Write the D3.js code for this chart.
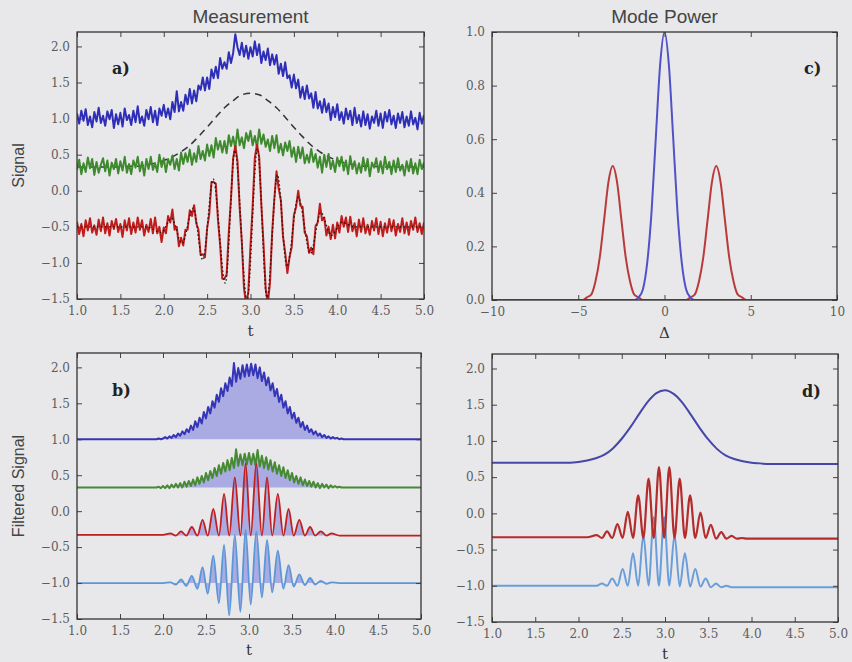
<!DOCTYPE html>
<html>
<head>
<meta charset="utf-8">
<script src="https://cdn.jsdelivr.net/npm/d3@7"></script>
<style>
  body { margin: 0; background: #e8e8ea; }
  svg { display: block; }
</style>
</head>
<body>
<svg id="fig" width="852" height="662"></svg>
<script>
// ---- data ----
// sample times of the raw measurement (panel a), step 0.025
var tA = d3.range(161).map(function(i) { return 1 + i * 0.025; });

var blueA = [
  1.07,0.93,1.11,0.97,1.13,0.91,1.03,0.88,1.09,0.96,
  1.15,0.94,1.04,0.90,1.10,0.99,1.12,0.87,1.06,0.92,
  1.08,0.89,1.14,0.98,1.05,0.91,1.11,0.95,1.17,0.94,
  1.03,0.90,1.12,0.99,1.16,0.95,1.11,0.91,1.14,1.04,
  1.19,1.02,1.14,0.99,1.23,1.09,1.38,1.10,1.23,1.11,
  1.33,1.20,1.41,1.21,1.39,1.24,1.46,1.40,1.57,1.39,
  1.57,1.41,1.68,1.56,1.72,1.56,1.84,1.69,1.78,1.69,
  1.92,1.77,1.91,2.17,1.99,1.88,2.05,1.86,2.01,1.83,
  1.99,1.86,2.07,1.88,2.03,1.77,1.93,1.81,1.97,1.74,
  1.89,1.75,1.88,1.62,1.76,1.59,1.78,1.56,1.60,1.43,
  1.61,1.42,1.54,1.29,1.44,1.27,1.46,1.28,1.35,1.15,
  1.37,1.14,1.24,1.08,1.27,1.09,1.21,0.98,1.16,1.02,
  1.20,0.98,1.09,0.93,1.14,0.99,1.11,0.91,1.15,0.94,
  1.05,0.89,1.10,0.91,1.06,0.86,1.03,0.94,1.11,0.90,
  1.07,0.87,1.09,0.96,1.12,0.92,1.04,0.87,1.07,0.94,
  1.09,0.88,1.03,0.90,1.10,0.92,1.01,0.85,1.08,0.93,
  1.05
];

var greenA = [
  0.29,0.43,0.23,0.38,0.26,0.46,0.31,0.44,0.22,0.40,
  0.25,0.36,0.45,0.27,0.42,0.21,0.39,0.30,0.44,0.24,
  0.41,0.28,0.47,0.25,0.37,0.23,0.42,0.32,0.47,0.27,
  0.40,0.21,0.44,0.30,0.47,0.29,0.38,0.26,0.50,0.33,
  0.45,0.26,0.44,0.36,0.49,0.30,0.44,0.28,0.53,0.37,
  0.52,0.40,0.57,0.36,0.52,0.40,0.62,0.44,0.55,0.42,
  0.64,0.48,0.63,0.46,0.73,0.57,0.69,0.53,0.69,0.52,
  0.77,0.62,0.75,0.58,0.85,0.63,0.74,0.59,0.80,0.69,
  0.83,0.63,0.76,0.60,0.85,0.65,0.78,0.61,0.71,0.55,
  0.76,0.59,0.77,0.53,0.65,0.49,0.67,0.55,0.69,0.47,
  0.60,0.40,0.61,0.45,0.60,0.38,0.50,0.39,0.58,0.40,
  0.51,0.32,0.47,0.25,0.50,0.33,0.51,0.30,0.42,0.26,
  0.46,0.34,0.47,0.28,0.42,0.23,0.48,0.30,0.41,0.24,
  0.38,0.25,0.46,0.28,0.44,0.20,0.39,0.32,0.45,0.26,
  0.41,0.24,0.47,0.30,0.40,0.23,0.42,0.26,0.45,0.28,
  0.36,0.21,0.41,0.27,0.44,0.24,0.38,0.23,0.43,0.30,
  0.39
];

var redA = [
  -0.43,-0.60,-0.46,-0.63,-0.41,-0.55,-0.38,-0.58,-0.48,-0.61,
  -0.40,-0.56,-0.37,-0.59,-0.45,-0.62,-0.42,-0.53,-0.39,-0.57,
  -0.46,-0.64,-0.41,-0.55,-0.38,-0.60,-0.44,-0.58,-0.37,-0.54,
  -0.41,-0.62,-0.47,-0.57,-0.39,-0.59,-0.37,-0.59,-0.50,-0.71,
  -0.51,-0.59,-0.35,-0.44,-0.26,-0.54,-0.50,-0.77,-0.65,-0.76,
  -0.54,-0.54,-0.27,-0.35,-0.20,-0.45,-0.54,-0.89,-0.88,-0.92,
  -0.52,-0.32,0.12,0.12,0.10,-0.40,-0.75,-1.22,-1.22,-1.16,
  -0.57,-0.11,0.45,0.62,0.41,-0.23,-0.71,-1.35,-1.58,-1.40,
  -0.76,-0.21,0.46,0.64,0.47,-0.19,-0.74,-1.36,-1.56,-1.27,
  -0.57,-0.11,0.27,0.03,-0.13,-0.64,-0.86,-1.14,-0.92,-0.78,
  -0.34,-0.23,0.00,-0.21,-0.22,-0.58,-0.63,-0.86,-0.79,-0.88,
  -0.49,-0.44,-0.18,-0.41,-0.37,-0.62,-0.50,-0.67,-0.47,-0.66,
  -0.44,-0.58,-0.35,-0.50,-0.37,-0.57,-0.36,-0.56,-0.45,-0.63,
  -0.40,-0.57,-0.38,-0.59,-0.47,-0.61,-0.42,-0.55,-0.38,-0.60,
  -0.43,-0.63,-0.45,-0.58,-0.39,-0.56,-0.41,-0.62,-0.46,-0.57,
  -0.38,-0.59,-0.44,-0.61,-0.42,-0.54,-0.37,-0.57,-0.45,-0.60,
  -0.44
];

// dashed reference envelope in panel a (step 0.1)
var dashT = d3.range(41).map(function(i) { return 1 + i * 0.1; });
var dashA = [
  0.33,0.33,0.33,0.33,0.33,0.33,0.34,0.34,0.36,0.38,
  0.42,0.47,0.54,0.63,0.75,0.88,1.02,1.15,1.25,1.33,
  1.35,1.33,1.25,1.15,1.02,0.88,0.75,0.63,0.54,0.47,
  0.42,0.38,0.36,0.34,0.34,0.33,0.33,0.33,0.33,0.33,
  0.33
];

// dotted clean oscillation in panel a (turning points)
var cleanT = [1.0,1.8,1.97,2.09,2.21,2.34,2.45,2.57,2.71,2.82,2.96,3.08,3.19,3.31,3.42,3.55,3.69,3.81,3.93,4.05,4.2,5.0];
var cleanA = [-0.5,-0.5,-0.58,-0.38,-0.73,-0.24,-0.96,0.16,-1.28,0.56,-1.52,0.58,-1.48,0.22,-1.05,-0.09,-0.87,-0.30,-0.62,-0.44,-0.5,-0.5];

// panel b: filtered signals, window 1.9..4.1 step 0.025 plus end points
var tB = [1.0].concat(d3.range(89).map(function(i) { return 1.9 + i * 0.025; }), [5.0]);
var blueB = [1.00,
  1.00,1.00,1.01,1.00,1.01,1.03,1.01,1.04,1.02,1.06,
  1.03,1.08,1.05,1.11,1.07,1.14,1.10,1.19,1.13,1.25,
  1.17,1.30,1.22,1.38,1.29,1.45,1.36,1.53,1.44,1.62,
  1.52,1.71,1.60,1.78,1.67,1.86,1.74,2.06,1.80,1.99,
  1.84,2.03,1.87,2.04,1.88,2.05,1.89,2.04,1.85,2.00,
  1.81,1.93,1.75,1.86,1.68,1.78,1.60,1.70,1.52,1.62,
  1.44,1.53,1.36,1.45,1.29,1.37,1.23,1.30,1.17,1.24,
  1.13,1.19,1.10,1.14,1.07,1.11,1.05,1.08,1.03,1.06,
  1.02,1.04,1.01,1.03,1.01,1.02,1.00,1.01,1.00,
  1.00];
var greenB = [0.33,
  0.33,0.33,0.34,0.32,0.35,0.32,0.36,0.32,0.37,0.33,
  0.38,0.33,0.39,0.33,0.41,0.34,0.42,0.35,0.44,0.36,
  0.47,0.38,0.49,0.40,0.53,0.43,0.56,0.46,0.60,0.49,
  0.64,0.52,0.67,0.55,0.71,0.57,0.74,0.60,0.86,0.63,
  0.79,0.64,0.80,0.65,0.81,0.65,0.80,0.64,0.85,0.62,
  0.77,0.60,0.75,0.58,0.71,0.55,0.68,0.52,0.64,0.49,
  0.61,0.46,0.57,0.43,0.53,0.40,0.49,0.38,0.47,0.36,
  0.44,0.35,0.42,0.34,0.41,0.33,0.39,0.32,0.38,0.33,
  0.37,0.32,0.36,0.33,0.35,0.33,0.34,0.33,0.33,
  0.33];

// panel b oscillations (turning points)
var oscT = [1.0,2.0,2.085,2.15,2.21,2.27,2.335,2.4,2.46,2.52,2.585,2.65,2.71,2.77,2.835,2.9,2.96,3.02,3.085,3.15,3.21,3.27,3.335,3.4,3.46,3.52,3.585,3.65,3.71,3.77,3.835,3.9,3.96,4.05,5.0];
var redB = [-0.33,-0.33,-0.31,-0.34,-0.28,-0.34,-0.22,-0.34,-0.12,-0.34,0.03,-0.34,0.24,-0.34,0.47,-0.34,0.66,-0.34,0.66,-0.34,0.47,-0.34,0.24,-0.34,0.03,-0.34,-0.12,-0.34,-0.22,-0.34,-0.28,-0.34,-0.31,-0.34,-0.34];
var lightB = [-1.0,-1.0,-0.99,-1.02,-0.95,-1.04,-0.90,-1.08,-0.78,-1.15,-0.62,-1.28,-0.47,-1.45,-0.33,-1.40,-0.26,-1.30,-0.28,-1.20,-0.40,-1.13,-0.55,-1.08,-0.75,-1.05,-0.88,-1.03,-0.93,-1.02,-0.97,-1.01,-0.99,-1.0,-1.0];

// panel c: mode power vs detuning
var deltaC = [-10,-5,-4.75,-4.5,-4.25,-4,-3.75,-3.5,-3.25,-3,-2.75,-2.5,-2.25,-2,-1.75,-1.5,-1.25,-1,-0.75,-0.5,-0.25,0,0.25,0.5,0.75,1,1.25,1.5,1.75,2,2.25,2.5,2.75,3,3.25,3.5,3.75,4,4.25,4.5,4.75,5,10];
var redC = [0,0,0,0.01,0.02,0.07,0.16,0.30,0.44,0.50,0.44,0.30,0.16,0.07,0.02,0.01,0,0,0,0,0,0,0,0,0,0,0,0.01,0.02,0.07,0.16,0.30,0.44,0.50,0.44,0.30,0.16,0.07,0.02,0.01,0,0,0];
var blueC = [0,0,0,0,0,0,0,0,0,0,0,0,0,0,0,0.01,0.04,0.14,0.33,0.61,0.88,1.0,0.88,0.61,0.33,0.14,0.04,0.01,0,0,0,0,0,0,0,0,0,0,0,0,0,0,0];

// panel d: reconstructed signals
var dT = [1.0,1.8,1.9,2.0,2.1,2.2,2.3,2.4,2.5,2.6,2.7,2.8,2.9,3.0,3.1,3.2,3.3,3.4,3.5,3.6,3.7,3.8,3.9,4.0,4.1,4.2,5.0];
var blueD = [0.70,0.70,0.70,0.71,0.73,0.76,0.81,0.90,1.03,1.19,1.37,1.54,1.66,1.70,1.65,1.53,1.36,1.18,1.02,0.89,0.80,0.75,0.72,0.70,0.69,0.68,0.68];
var redDT = [1.0,2.1,2.21,2.27,2.33,2.39,2.45,2.51,2.57,2.63,2.69,2.75,2.81,2.87,2.93,2.99,3.05,3.11,3.17,3.23,3.29,3.35,3.41,3.47,3.53,3.59,3.65,3.71,3.77,3.83,3.89,3.95,5.0];
var redD = [-0.33,-0.33,-0.30,-0.34,-0.25,-0.34,-0.15,-0.34,0.02,-0.34,0.25,-0.34,0.48,-0.34,0.64,-0.34,0.64,-0.34,0.48,-0.34,0.25,-0.34,0.01,-0.34,-0.16,-0.35,-0.26,-0.35,-0.31,-0.35,-0.34,-0.35,-0.35];
var lightDT = [1.0,2.15,2.21,2.27,2.33,2.39,2.45,2.51,2.57,2.63,2.69,2.75,2.81,2.87,2.93,2.99,3.05,3.11,3.17,3.23,3.29,3.35,3.41,3.47,3.53,3.59,3.65,3.71,3.77,5.0];
var lightD = [-1.0,-1.0,-1.0,-0.97,-1.0,-0.90,-1.0,-0.77,-1.0,-0.55,-1.0,-0.30,-1.0,-0.05,-1.0,-0.05,-1.0,-0.30,-1.01,-0.55,-1.01,-0.77,-1.01,-0.90,-1.02,-0.97,-1.02,-1.0,-1.02,-1.02];

// ticks
var tTicks = [1.0,1.5,2.0,2.5,3.0,3.5,4.0,4.5,5.0];
var sigTicks = [-1.5,-1.0,-0.5,0.0,0.5,1.0,1.5,2.0];
var deltaTicks = [-10,-5,0,5,10];
var powerTicks = [0.0,0.2,0.4,0.6,0.8,1.0];

// ---- drawing ----
var svg = d3.select("#fig");
var defs = svg.append("defs");
var serif = "'DejaVu Serif', serif";
var sans = "'Liberation Sans', Arial, sans-serif";

function makePanel(key, box, xDom, yDom, xTicks, yTicks, xFmt, yFmt) {
    var x = d3.scaleLinear().domain(xDom).range([box.l, box.r]);
    var y = d3.scaleLinear().domain(yDom).range([box.b, box.t]);

    defs.append("clipPath").attr("id", "clip-" + key)
        .append("rect")
        .attr("x", box.l).attr("y", box.t)
        .attr("width", box.r - box.l).attr("height", box.b - box.t);

    var plot = svg.append("g").attr("clip-path", "url(#clip-" + key + ")");

    function styleAxis(sel) {
        sel.select(".domain").remove();
        sel.selectAll("line").attr("stroke", "#444").attr("stroke-width", 1);
        sel.selectAll("text").attr("font-family", serif).attr("font-size", 12).attr("fill", "#5c5c5c");
    }

    svg.append("g").attr("transform", "translate(0," + box.b + ")")
        .call(d3.axisBottom(x).tickValues(xTicks).tickSize(-5).tickPadding(7).tickFormat(xFmt))
        .call(styleAxis);
    svg.append("g").attr("transform", "translate(0," + box.t + ")")
        .call(d3.axisTop(x).tickValues(xTicks).tickSize(-5).tickFormat(""))
        .call(styleAxis);
    svg.append("g").attr("transform", "translate(" + box.l + ",0)")
        .call(d3.axisLeft(y).tickValues(yTicks).tickSize(-5).tickPadding(7).tickFormat(yFmt))
        .call(styleAxis);
    svg.append("g").attr("transform", "translate(" + box.r + ",0)")
        .call(d3.axisRight(y).tickValues(yTicks).tickSize(-5).tickFormat(""))
        .call(styleAxis);

    var frame = function() {
        svg.append("rect")
            .attr("x", box.l).attr("y", box.t)
            .attr("width", box.r - box.l).attr("height", box.b - box.t)
            .attr("fill", "none").attr("stroke", "#333").attr("stroke-width", 1.3);
    };
    return { x: x, y: y, plot: plot, box: box, frame: frame };
}

function addLine(p, xs, ys, color, width, curve, dash) {
    var line = d3.line()
        .x(function(d) { return p.x(d[0]); })
        .y(function(d) { return p.y(d[1]); });
    if (curve) line.curve(curve);
    var path = p.plot.append("path")
        .datum(d3.zip(xs, ys))
        .attr("d", line)
        .attr("fill", "none")
        .attr("stroke", color)
        .attr("stroke-width", width)
        .attr("stroke-linejoin", "round");
    if (dash) path.attr("stroke-dasharray", dash);
    return path;
}

function addFill(p, xs, ys, base, curve) {
    var area = d3.area()
        .x(function(d) { return p.x(d[0]); })
        .y0(p.y(base))
        .y1(function(d) { return p.y(d[1]); });
    if (curve) area.curve(curve);
    p.plot.append("path")
        .datum(d3.zip(xs, ys))
        .attr("d", area)
        .attr("fill", "rgba(80,80,220,0.4)")
        .attr("stroke", "none");
}

var f1 = d3.format(".1f"), fInt = d3.format("d");
var smooth = d3.curveMonotoneX;

// panel a
var pa = makePanel("a", { l: 77, r: 424, t: 32, b: 299 }, [1, 5], [-1.5, 2.2], tTicks, sigTicks, f1, f1);
addLine(pa, dashT, dashA, "#333", 1.5, smooth, "7,5");
addLine(pa, tA, blueA, "#2e2eb8", 2);
addLine(pa, tA, greenA, "#3f8a2f", 2);
addLine(pa, tA, redA, "#c01c1c", 2);
addLine(pa, cleanT, cleanA, "#1a1a1a", 1.4, smooth, "1.5,2.5");
pa.frame();

// panel c
var pc = makePanel("c", { l: 492, r: 837, t: 32, b: 300 }, [-10, 10], [0, 1], deltaTicks, powerTicks, fInt, f1);
addLine(pc, deltaC, redC, "#b83a3a", 2, smooth);
addLine(pc, deltaC, blueC, "#5252c8", 2, smooth);
pc.frame();

// panel b
var pb = makePanel("b", { l: 77, r: 421, t: 353, b: 619 }, [1, 5], [-1.5, 2.2], tTicks, sigTicks, f1, f1);
addFill(pb, tB, blueB, 1.0);
addFill(pb, tB, greenB, 0.33);
addFill(pb, oscT, lightB, -1.0, smooth);
addFill(pb, oscT, redB, -0.34, smooth);
addLine(pb, tB, blueB, "#3535b8", 2);
addLine(pb, tB, greenB, "#468a34", 2);
addLine(pb, oscT, lightB, "#5b96d6", 1.8, smooth);
addLine(pb, oscT, redB, "#c02020", 1.8, smooth);
pb.frame();

// panel d
var pd = makePanel("d", { l: 492, r: 838, t: 354, b: 622 }, [1, 5], [-1.5, 2.2], tTicks, sigTicks, f1, f1);
addLine(pd, lightDT, lightD, "#6a9edb", 2, smooth);
addLine(pd, redDT, redD, "#b42c2c", 2.2, smooth);
addLine(pd, dT, blueD, "#4646aa", 2, smooth);
pd.frame();

// ---- text ----
function label(txt, x, y, opts) {
    var t = svg.append("text").attr("x", x).attr("y", y).text(txt)
        .attr("font-family", opts.family || sans)
        .attr("font-size", opts.size || 14)
        .attr("fill", opts.color || "#444")
        .attr("text-anchor", opts.anchor || "middle");
    if (opts.weight) t.attr("font-weight", opts.weight);
    if (opts.rotate) t.attr("transform", "rotate(-90," + x + "," + y + ")");
    return t;
}

label("Measurement", (pa.box.l + pa.box.r) / 2, pa.box.t - 9, { size: 19 });
label("Mode Power", (pc.box.l + pc.box.r) / 2, pc.box.t - 9, { size: 19 });
label("Signal", 24, (pa.box.t + pa.box.b) / 2, { size: 16, rotate: true });
label("Filtered Signal", 24, (pb.box.t + pb.box.b) / 2, { size: 16, rotate: true });
label("t", (pa.box.l + pa.box.r) / 2, pa.box.b + 37, { family: serif, size: 15, color: "#333" });
label("\u0394", (pc.box.l + pc.box.r) / 2, pc.box.b + 38, { family: serif, size: 15, color: "#333" });
label("t", (pb.box.l + pb.box.r) / 2, pb.box.b + 36, { family: serif, size: 15, color: "#333" });
label("t", (pd.box.l + pd.box.r) / 2, pd.box.b + 37, { family: serif, size: 15, color: "#333" });

label("a)", pa.box.l + 35, pa.box.t + 42, { family: serif, size: 16, weight: "bold", anchor: "start", color: "#222" });
label("b)", pb.box.l + 35, pb.box.t + 43, { family: serif, size: 16, weight: "bold", anchor: "start", color: "#222" });
label("c)", pc.box.r - 33, pc.box.t + 42, { family: serif, size: 16, weight: "bold", anchor: "start", color: "#222" });
label("d)", pd.box.r - 36, pd.box.t + 43, { family: serif, size: 16, weight: "bold", anchor: "start", color: "#222" });
</script>
</body>
</html>
